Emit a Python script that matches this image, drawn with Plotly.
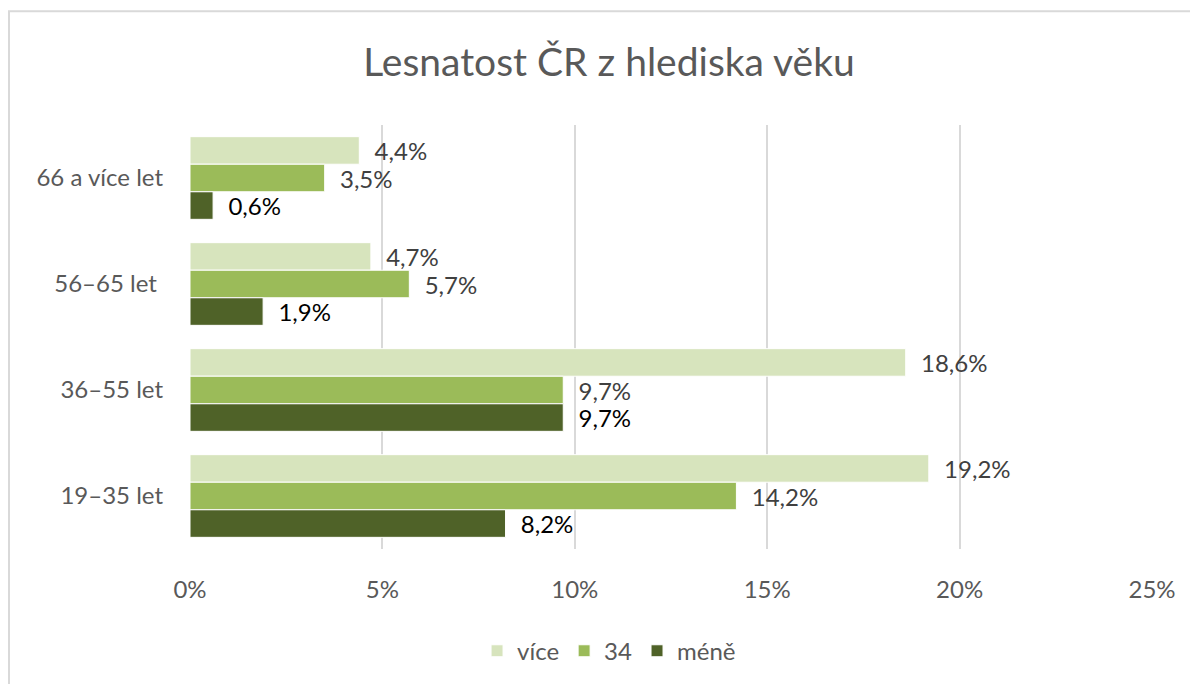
import plotly.graph_objects as go

# Age categories (top to bottom)
categories = ["66 a více let", "56–65 let ", "36–55 let", "19–35 let"]

# Series values in percent
vice = [4.4, 4.7, 18.6, 19.2]
s34 = [3.5, 5.7, 9.7, 14.2]
mene = [0.6, 1.9, 9.7, 8.2]

series_names = ["více", "34", "méně"]
series_values = [vice, s34, mene]
COLORS = ["#d7e4bd", "#9bbb59", "#4f6228"]
LABEL_COLORS = ["#404040", "#404040", "#000000"]

x_ticks = [0, 5, 10, 15, 20, 25]
x_tick_labels = ["0%", "5%", "10%", "15%", "20%", "25%"]

FONT = "Lato"
NBSP = "\u00a0"

# page body has an 8px default margin, so the figure is 8px smaller
W, H = 1190, 676

fig = go.Figure()
for name, vals, col, lcol in zip(series_names, series_values, COLORS, LABEL_COLORS):
    fig.add_trace(go.Bar(
        y=categories, x=vals, name=name, orientation="h",
        marker=dict(color=col, line=dict(color="white", width=1)),
        text=vals,
        texttemplate=NBSP * 2 + "%{x:.1f}%",
        textposition="outside",
        constraintext="none",
        cliponaxis=False,
        textfont=dict(family=FONT, size=24, color=lcol),
        hoverinfo="skip",
    ))

fig.update_layout(
    width=W, height=H,
    paper_bgcolor="white", plot_bgcolor="white",
    barmode="group", bargap=0.22, bargroupgap=0,
    separators=", ",
    margin=dict(l=182, r=46, t=117, b=134),
    font=dict(family=FONT, size=24, color="#595959"),
    title=dict(
        text="Lesnatost ČR z hlediska věku",
        x=(609 - 8) / W, xanchor="center", y=1 - 54 / H, yanchor="middle",
        font=dict(family=FONT, size=39, color="#595959"),
    ),
    showlegend=True,
    legend=dict(
        orientation="h", x=0.4356, xanchor="center", y=-0.238, yanchor="middle",
        font=dict(family=FONT, size=24, color="#595959"),
        itemwidth=30,
    ),
    shapes=[dict(
        type="rect", xref="paper", yref="paper",
        x0=(9 - 190) / 962, x1=1.2, y0=-0.6, y1=(550 - 11) / 425,
        line=dict(color="#d9d9d9", width=2), fillcolor="rgba(0,0,0,0)",
        layer="below",
    )],
)

fig.update_xaxes(
    range=[0, 25], tickvals=x_ticks, ticktext=x_tick_labels,
    showgrid=True, gridcolor="#d9d9d9", gridwidth=1.5,
    zeroline=False, showline=False, ticks="",
    ticklabelstandoff=24, automargin=False,
    tickfont=dict(family=FONT, size=24, color="#595959"),
)
fig.update_yaxes(
    autorange="reversed", showgrid=False, zeroline=False, showline=False,
    ticks="", ticklabelstandoff=26, automargin=False,
    tickfont=dict(family=FONT, size=24, color="#595959"),
)

fig.write_html("out.html")
